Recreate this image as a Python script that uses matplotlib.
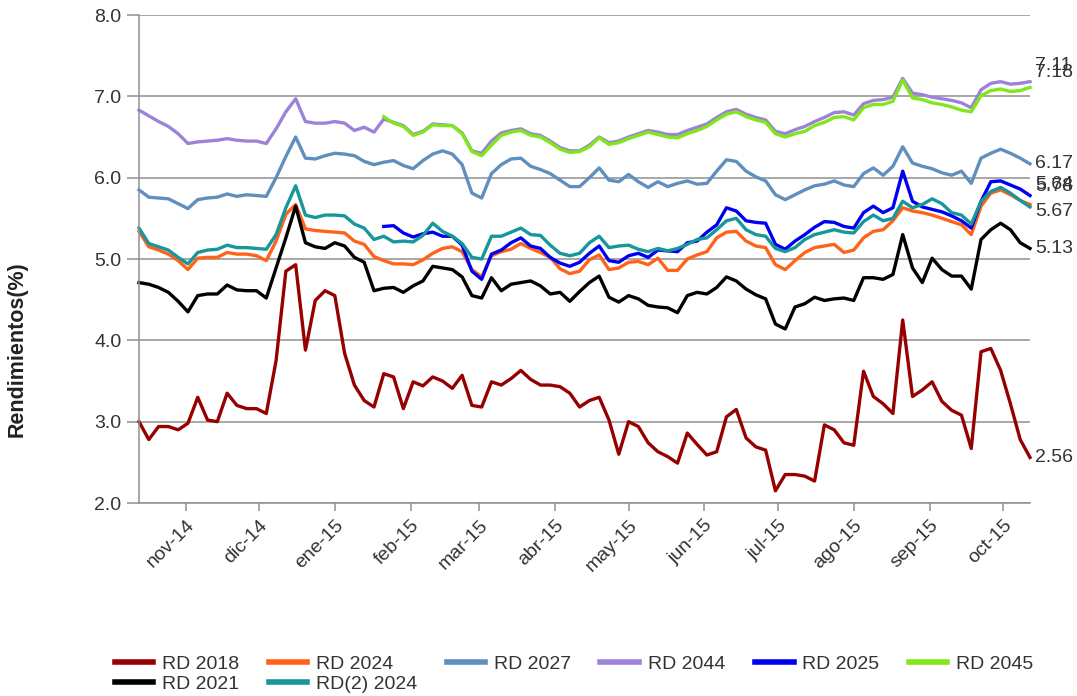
import numpy as np
import matplotlib
matplotlib.use('Agg')
import matplotlib.pyplot as plt

plt.rcParams['font.family'] = ['Liberation Sans', 'DejaVu Sans']

# sampling dates (every 4 days, Oct 13 2014 -> Oct 12 2015)
dates = np.arange(np.datetime64('2014-10-13'), np.datetime64('2015-10-13'), np.timedelta64(4, 'D'))

nan = np.nan

rd2018 = [3.00, 2.78, 2.94, 2.94, 2.90, 2.98, 3.30, 3.02, 3.00, 3.35, 3.20, 3.16, 3.16, 3.10, 3.75, 4.85,
          4.93, 3.88, 4.49, 4.61, 4.55, 3.84, 3.45, 3.26,
          3.18, 3.59, 3.55, 3.16, 3.49, 3.44, 3.55, 3.50, 3.41, 3.57, 3.20, 3.18, 3.49, 3.45, 3.53, 3.63,
          3.52, 3.45, 3.45, 3.43, 3.35, 3.18,
          3.26, 3.30, 3.02, 2.60, 3.00, 2.94, 2.74, 2.63, 2.57, 2.49, 2.86, 2.72, 2.59, 2.63, 3.06, 3.15,
          2.80, 2.69, 2.65, 2.15, 2.35, 2.35,
          2.33, 2.27, 2.96, 2.90, 2.74, 2.71, 3.62, 3.31, 3.22, 3.10, 4.25, 3.31, 3.39, 3.49, 3.25, 3.14,
          3.08, 2.67, 3.86, 3.90, 3.63, 3.22, 2.78, 2.56]

rd2021 = [4.71, 4.69, 4.65, 4.59, 4.48, 4.35, 4.55, 4.57, 4.57, 4.68, 4.62, 4.61, 4.61, 4.52, 4.89, 5.26,
          5.65, 5.20, 5.15, 5.13, 5.20, 5.16, 5.02, 4.96,
          4.61, 4.64, 4.65, 4.59, 4.67, 4.73, 4.91, 4.89, 4.87, 4.78, 4.55, 4.52, 4.77, 4.61, 4.69, 4.71,
          4.73, 4.67, 4.57, 4.59, 4.48, 4.60,
          4.71, 4.79, 4.53, 4.47, 4.55, 4.51, 4.43, 4.41, 4.40, 4.34, 4.55, 4.59, 4.57, 4.65, 4.78, 4.73,
          4.63, 4.56, 4.51, 4.20, 4.14, 4.41,
          4.45, 4.53, 4.49, 4.51, 4.52, 4.49, 4.77, 4.77, 4.75, 4.81, 5.30, 4.89, 4.71, 5.01, 4.87, 4.79,
          4.79, 4.63, 5.24, 5.36, 5.44, 5.36, 5.20, 5.13]

rd2024 = [5.34, 5.15, 5.11, 5.06, 4.98, 4.87, 5.01, 5.02, 5.02, 5.08, 5.06, 5.06, 5.04, 4.98, 5.22, 5.55,
          5.67, 5.37, 5.35, 5.34, 5.33, 5.32, 5.22, 5.18,
          5.03, 4.98, 4.94, 4.94, 4.93, 4.99, 5.07, 5.13, 5.15, 5.09, 4.87, 4.78, 5.04, 5.09, 5.12, 5.19,
          5.13, 5.08, 5.02, 4.88, 4.82, 4.85,
          4.99, 5.05, 4.87, 4.89, 4.96, 4.97, 4.93, 5.01, 4.86, 4.86, 5.00, 5.05, 5.09, 5.26, 5.33, 5.34,
          5.22, 5.16, 5.14, 4.93, 4.87, 4.98,
          5.08, 5.14, 5.16, 5.18, 5.08, 5.11, 5.26, 5.34, 5.36, 5.47, 5.63, 5.59, 5.57, 5.54, 5.50, 5.46,
          5.42, 5.30, 5.65, 5.81, 5.85, 5.79, 5.72, 5.67]

rd2_2024 = [5.38, 5.19, 5.15, 5.11, 5.02, 4.94, 5.08, 5.11, 5.12, 5.17, 5.14, 5.14, 5.13, 5.12, 5.30, 5.63,
            5.90, 5.54, 5.51, 5.54, 5.54, 5.53, 5.43, 5.38,
            5.24, 5.28, 5.21, 5.22, 5.21, 5.29, 5.44, 5.34, 5.28, 5.19, 5.02, 5.00, 5.28, 5.28, 5.33, 5.38,
            5.30, 5.29, 5.17, 5.07, 5.04, 5.07,
            5.20, 5.28, 5.14, 5.16, 5.17, 5.12, 5.09, 5.13, 5.10, 5.13, 5.18, 5.24, 5.26, 5.36, 5.47, 5.50,
            5.36, 5.30, 5.28, 5.13, 5.09, 5.14,
            5.24, 5.30, 5.33, 5.36, 5.33, 5.32, 5.46, 5.54, 5.47, 5.50, 5.71, 5.63, 5.67, 5.74, 5.68, 5.57,
            5.54, 5.43, 5.71, 5.83, 5.88, 5.81, 5.72, 5.64]

rd2027 = [5.85, 5.76, 5.75, 5.74, 5.68, 5.62, 5.73, 5.75, 5.76, 5.80, 5.77, 5.79, 5.78, 5.77, 6.00, 6.26,
          6.50, 6.24, 6.23, 6.27, 6.30, 6.29, 6.27, 6.20,
          6.16, 6.19, 6.21, 6.15, 6.11, 6.21, 6.29, 6.33, 6.29, 6.16, 5.81, 5.75, 6.05, 6.16, 6.23, 6.24,
          6.14, 6.10, 6.05, 5.97, 5.89, 5.89,
          6.00, 6.12, 5.97, 5.95, 6.04, 5.95, 5.88, 5.95, 5.89, 5.93, 5.96, 5.92, 5.93, 6.08, 6.22, 6.20,
          6.08, 6.01, 5.96, 5.79, 5.73, 5.79,
          5.85, 5.90, 5.92, 5.96, 5.91, 5.89, 6.05, 6.12, 6.03, 6.14, 6.38, 6.18, 6.14, 6.11, 6.06, 6.03,
          6.08, 5.93, 6.24, 6.30, 6.35, 6.30, 6.24, 6.17]

rd2044 = [6.83, 6.76, 6.69, 6.63, 6.54, 6.42, 6.44, 6.45, 6.46, 6.48, 6.46, 6.45, 6.45, 6.42, 6.60, 6.81,
          6.97, 6.69, 6.67, 6.67, 6.69, 6.67, 6.58, 6.62,
          6.56, 6.72, 6.68, 6.64, 6.53, 6.57, 6.66, 6.65, 6.64, 6.55, 6.33, 6.30, 6.45, 6.55, 6.58, 6.60,
          6.54, 6.52, 6.45, 6.37, 6.33, 6.33,
          6.40, 6.50, 6.43, 6.45, 6.50, 6.54, 6.58, 6.56, 6.53, 6.53, 6.58, 6.62, 6.66, 6.74, 6.81, 6.84,
          6.78, 6.74, 6.71, 6.57, 6.54, 6.59,
          6.63, 6.69, 6.74, 6.80, 6.81, 6.77, 6.91, 6.95, 6.96, 6.99, 7.22, 7.04, 7.02, 6.99, 6.97, 6.95,
          6.92, 6.86, 7.08, 7.16, 7.18, 7.15, 7.16, 7.18]

rd2025 = [nan] * 25 + [
          5.40, 5.41, 5.32, 5.27, 5.31, 5.33, 5.28, 5.28, 5.17, 4.85, 4.75, 5.06, 5.11, 5.20, 5.26,
          5.16, 5.13, 5.02, 4.95, 4.91, 4.96,
          5.07, 5.16, 4.98, 4.96, 5.04, 5.07, 5.02, 5.11, 5.10, 5.09, 5.20, 5.22, 5.33, 5.42, 5.63, 5.59,
          5.47, 5.45, 5.44, 5.18, 5.12, 5.22,
          5.30, 5.39, 5.46, 5.45, 5.40, 5.38, 5.57, 5.65, 5.57, 5.63, 6.08, 5.71, 5.64, 5.61, 5.58, 5.53,
          5.47, 5.38, 5.71, 5.95, 5.96, 5.91, 5.86, 5.78]

rd2045 = [nan] * 25 + [
          6.75, 6.67, 6.63, 6.52, 6.56, 6.65, 6.64, 6.64, 6.54, 6.32, 6.27, 6.40, 6.52, 6.56, 6.58,
          6.52, 6.50, 6.43, 6.35, 6.31, 6.32,
          6.38, 6.49, 6.41, 6.43, 6.48, 6.52, 6.56, 6.53, 6.50, 6.49, 6.54, 6.58, 6.63, 6.71, 6.78, 6.81,
          6.75, 6.71, 6.68, 6.54, 6.50, 6.54,
          6.57, 6.64, 6.68, 6.74, 6.75, 6.71, 6.86, 6.90, 6.90, 6.94, 7.20, 6.98, 6.96, 6.92, 6.90, 6.87,
          6.83, 6.81, 7.01, 7.07, 7.09, 7.06, 7.07, 7.11]

month_ticks = np.array(['2014-11-01', '2014-12-01', '2015-01-01', '2015-02-01', '2015-03-01', '2015-04-01',
                        '2015-05-01', '2015-06-01', '2015-07-01', '2015-08-01', '2015-09-01', '2015-10-01'],
                       dtype='datetime64[D]')
month_labels = ['nov-14', 'dic-14', 'ene-15', 'feb-15', 'mar-15', 'abr-15',
                'may-15', 'jun-15', 'jul-15', 'ago-15', 'sep-15', 'oct-15']
y_ticks = [2.0, 3.0, 4.0, 5.0, 6.0, 7.0, 8.0]

# draw order follows the original legend order
series = [
    ('RD 2018', rd2018, '#960000'),
    ('RD 2024', rd2024, '#FF6219'),
    ('RD 2027', rd2027, '#5E8FBE'),
    ('RD 2044', rd2044, '#9C82D8'),
    ('RD 2025', rd2025, '#0000F0'),
    ('RD 2045', rd2045, '#80E81A'),
    ('RD 2021', rd2021, '#000000'),
    ('RD(2) 2024', rd2_2024, '#17979A'),
]
# end-label vertical offsets (points) to avoid overlaps, as in the original
label_dy = {'RD 2018': 0, 'RD 2024': -4.7, 'RD 2027': 0, 'RD 2044': 6.5,
            'RD 2025': 6.5, 'RD 2045': 15.8, 'RD 2021': 0, 'RD(2) 2024': 16.5}

fig = plt.figure(figsize=(10.77, 6.96), dpi=100)
ax = fig.add_axes([139 / 1077, 1 - 503 / 696, (1030 - 139) / 1077, (503 - 15) / 696])

grid_c = '#8f8f8f'
text_c = '#333333'

handles = {}
for name, vals, color in series:
    ln, = ax.plot(dates, vals, color=color, lw=2.4, label=name, clip_on=False)
    handles[name] = ln
    v = np.array(vals, dtype=float)
    ax.annotate(f'{v[-1]:.2f}', xy=(dates[-1], v[-1]), xytext=(3.6, label_dy[name]),
                textcoords='offset points', ha='left', va='center', fontsize=14, color=text_c,
                annotation_clip=False)

ax.set_xlim(dates[0], dates[-1])
ax.set_ylim(2, 8)
ax.set_yticks(y_ticks)
ax.set_yticklabels([f'{t:.1f}' for t in y_ticks])
ax.set_xticks(month_ticks)
ax.set_xticklabels(month_labels, rotation=45, ha='right', rotation_mode='anchor')

ax.grid(axis='y', color=grid_c, lw=1.1)
ax.set_axisbelow(True)
for s in ['top', 'right']:
    ax.spines[s].set_visible(False)
for s in ['left', 'bottom']:
    ax.spines[s].set_color(grid_c)
    ax.spines[s].set_linewidth(1.1)

ax.tick_params(axis='y', length=8.6, width=1.1, color=grid_c, labelcolor=text_c, labelsize=14, pad=4)
ax.tick_params(axis='x', length=6, width=1.1, color=grid_c, labelcolor=text_c, labelsize=14, pad=4)

fig.text(17 / 1077, 1 - 349 / 696, 'Rendimientos(%)', rotation=90, fontweight='bold', fontsize=15.5,
         ha='center', va='center', color='#222222')

order = ['RD 2018', 'RD 2021', 'RD 2024', 'RD(2) 2024', 'RD 2027', 'RD 2044', 'RD 2025', 'RD 2045']
leg = fig.legend([handles[n] for n in order], order, loc='center', bbox_to_anchor=(0.533, 0.0316),
                 ncol=6, frameon=False, fontsize=14, handlelength=2.0, handletextpad=0.45,
                 columnspacing=1.5, labelspacing=0.15)
for t in leg.get_texts():
    t.set_color(text_c)
for l in leg.get_lines():
    l.set_linewidth(4)

fig.savefig('out.png', dpi=100)
